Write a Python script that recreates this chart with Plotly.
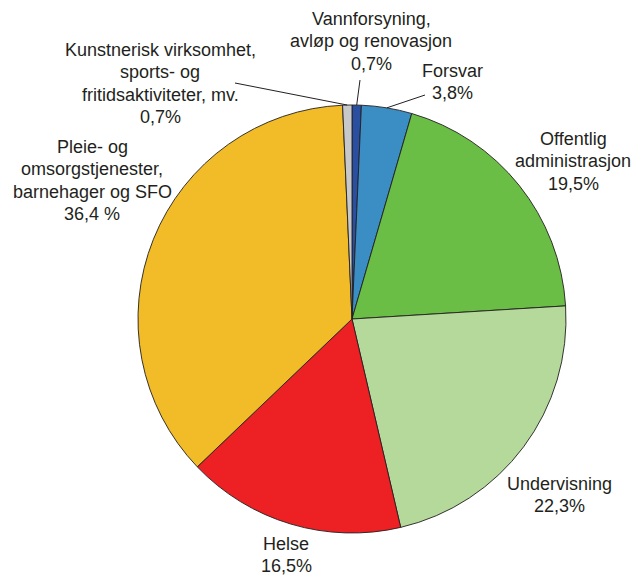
import math
import plotly.graph_objects as go

labels = [
    "Vannforsyning, avløp og renovasjon",
    "Forsvar",
    "Offentlig administrasjon",
    "Undervisning",
    "Helse",
    "Pleie- og omsorgstjenester, barnehager og SFO",
    "Kunstnerisk virksomhet, sports- og fritidsaktiviteter, mv.",
]
values = [0.7, 3.8, 19.5, 22.3, 16.5, 36.4, 0.7]
label_lines = [
    ["Vannforsyning,", "avløp og renovasjon", "0,7%"],
    ["Forsvar", "3,8%"],
    ["Offentlig", "administrasjon", "19,5%"],
    ["Undervisning", "22,3%"],
    ["Helse", "16,5%"],
    ["Pleie- og", "omsorgstjenester,", "barnehager og SFO", "36,4 %"],
    ["Kunstnerisk virksomhet,", "sports- og", "fritidsaktiviteter, mv.", "0,7%"],
]
colors = ["#2a4fa0", "#3b8ec4", "#6abd45", "#b5d99b", "#ed2024", "#f1bc27", "#c7c8ca"]

W, H = 637, 578
CX, CY, R = 352, 319, 214
LINE_STEP = 22.3

# label anchor: x centre and y of first line (pixels); leader-line label ends
label_pos = [(371, 19), (452, 71), (573, 139), (559, 484), (286, 544), (92, 147), (160, 50)]
leader_ends = [(360, 80), (425, 95), None, None, None, None, (235, 83)]

fig = go.Figure(go.Pie(
    labels=labels, values=values, sort=False, direction="clockwise", rotation=0,
    marker=dict(colors=colors, line=dict(color="#231f20", width=0.9)),
    textinfo="none", hoverinfo="label+percent", showlegend=False,
    domain=dict(x=[(CX - R) / W, (CX + R) / W], y=[(H - CY - R) / H, (H - CY + R) / H]),
))

total = sum(values)
cum = 0.0
shapes = []
annotations = []
for i, v in enumerate(values):
    mid = (cum + v / 2) / total * 2 * math.pi
    cum += v
    ex = CX + R * math.sin(mid)
    ey = CY - R * math.cos(mid)
    lx, ly = label_pos[i]
    for k, line in enumerate(label_lines[i]):
        yy = ly + k * LINE_STEP
        annotations.append(dict(
            x=lx / W, y=1 - yy / H, xref="paper", yref="paper", text=line,
            showarrow=False, align="center", xanchor="center", yanchor="middle",
            font=dict(family="Liberation Sans, Arial", size=18, color="#231f20"),
        ))
    if leader_ends[i] is not None:
        sx, sy = leader_ends[i]
        shapes.append(dict(type="line", xref="paper", yref="paper",
                           x0=sx / W, y0=1 - sy / H, x1=ex / W, y1=1 - ey / H,
                           line=dict(color="#231f20", width=1)))

fig.update_layout(
    width=W, height=H, margin=dict(l=0, r=0, t=0, b=0),
    paper_bgcolor="white", plot_bgcolor="white",
    annotations=annotations, shapes=shapes,
)
fig.write_html(
    "out.html",
    config={"displayModeBar": False},
    post_script="document.body.style.margin='0px';document.body.style.overflow='hidden';",
)
